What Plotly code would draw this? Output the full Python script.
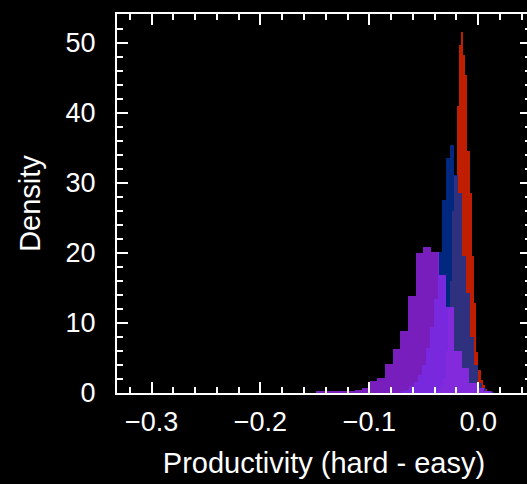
import plotly.graph_objects as go

# ---- data (densities) ----
purple_start = -0.14872
purple_width = 0.00702
purple_density = [0.19, 0.25, 0.15, 0.3, 0.35, 0.5, 0.75, 1.65, 2.2, 4.1, 6.3, 8.9,
                  13.9, 20.0, 20.9, 20.1, 16.9, 12.3, 6.0, 3.6, 1.4, 0.7, 0.3]

blue_start = -0.07052
blue_width = 0.003702
blue_density = [0.2, 0.5, 1.0, 1.6, 2.6, 4.0, 6.5, 9.5, 13.5, 20.2, 27.6, 33.5, 35.4,
                31.1, 28.5, 19.5, 14.3, 8.0, 4.0, 1.4, 0.7, 0.3, 0.1]

red_start = -0.03601
red_width = 0.002011
red_density = [0.5, 1, 2, 6, 12, 16, 26, 31, 41, 49.7, 51.5, 48.3, 45.4, 34.5, 28.5,
               19.6, 12.8, 5.9, 3.3, 1.9, 1.1, 0.6, 0.3]

x_tickvals = [-0.3, -0.2, -0.1, 0.0]
x_ticktext = ["\u22120.3", "\u22120.2", "\u22120.1", "0.0"]
y_tickvals = [0, 10, 20, 30, 40, 50]

x_title = "Productivity (hard - easy)"
y_title = "Density"


def centers(start, width, n):
    return [start + (i + 0.5) * width for i in range(n)]


series = [
    (red_start, red_width, red_density, "#ff2800"),
    (blue_start, blue_width, blue_density, "#0036a8"),
    (purple_start, purple_width, purple_density, "#a028fd"),
]

fig = go.Figure()
for start, width, dens, color in series:
    fig.add_trace(go.Bar(
        x=centers(start, width, len(dens)),
        y=dens,
        width=width,
        marker=dict(color=color, line=dict(width=0)),
        opacity=0.75,
        showlegend=False,
        hoverinfo="skip",
    ))

FONT = "Liberation Sans, Arial, Helvetica, sans-serif"

fig.update_layout(
    width=540,
    height=484,
    margin=dict(l=117, r=7, t=14, b=91),
    paper_bgcolor="black",
    plot_bgcolor="black",
    barmode="overlay",
    bargap=0,
    font=dict(family=FONT, color="white", size=27),
    xaxis=dict(
        range=[-0.3318, 0.0485],
        tickvals=x_tickvals,
        ticktext=x_ticktext,
        ticks="inside",
        ticklen=11,
        tickwidth=2,
        tickcolor="white",
        showline=True,
        linecolor="white",
        linewidth=2,
        mirror="allticks",
        showgrid=False,
        zeroline=False,
        ticklabelstandoff=4,
        tickfont=dict(size=27, color="white", family=FONT),
        minor=dict(dtick=0.02, tick0=0, ticks="inside", ticklen=6, tickwidth=1.5,
                   tickcolor="white", showgrid=False),
        title=dict(text=x_title, font=dict(size=29, color="white", family=FONT),
                   standoff=16),
    ),
    yaxis=dict(
        range=[0, 54.14],
        tickvals=y_tickvals,
        ticks="inside",
        ticklen=11,
        tickwidth=2,
        tickcolor="white",
        showline=True,
        linecolor="white",
        linewidth=2,
        mirror="allticks",
        showgrid=False,
        zeroline=False,
        ticklabelstandoff=14,
        tickfont=dict(size=27, color="white", family=FONT),
        minor=dict(dtick=2, tick0=0, ticks="inside", ticklen=6, tickwidth=1.5,
                   tickcolor="white", showgrid=False),
        title=dict(text=y_title, font=dict(size=29, color="white", family=FONT),
                   standoff=16),
    ),
)

fig.write_html(
    "out.html",
    config={"displayModeBar": False},
    post_script="document.body.style.margin='0';document.body.style.overflow='hidden';"
                "document.documentElement.style.overflow='hidden';",
)
